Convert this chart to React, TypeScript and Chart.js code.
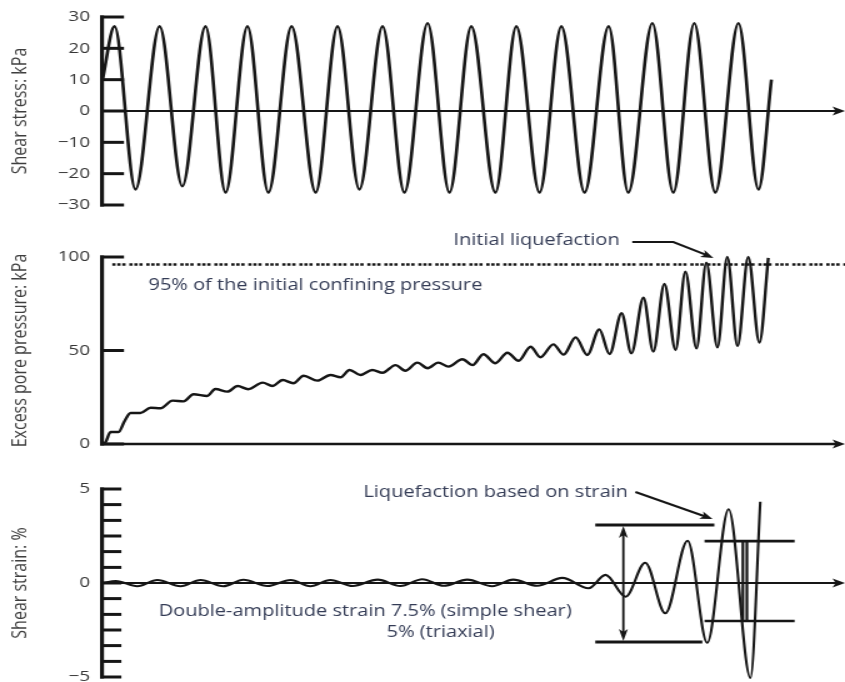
import React, { useEffect, useRef } from "react";
import { Chart, registerables } from "chart.js";

Chart.register(...registerables);

// ---------------- data (x = loading cycles) ----------------
const STRESS_CYCLES = [0, 0.27, 0.74, 1.28, 1.79, 2.31, 2.76, 3.25, 3.72, 4.24, 4.78, 5.27, 5.76, 6.28, 6.77, 7.29, 7.78, 8.27, 8.81, 9.28, 9.8, 10.29, 10.81, 11.35, 11.79, 12.33, 12.8, 13.27, 13.74, 14.26, 14.71, 15.0];
const STRESS_KPA = [10, 27, -25, 27, -24, 27, -26, 27, -26, 27, -26, 27, -25, 27, -26, 28, -26, 27, -26, 27, -26, 27, -26, 27, -26, 28, -26, 28, -26, 28, -25, 10];

const PORE_CYCLES = [0, 0.07, 0.18, 0.36, 0.49, 0.63, 0.85, 1.08, 1.3, 1.57, 1.82, 2.04, 2.35, 2.53, 2.8, 3.03, 3.27, 3.59, 3.81, 4.04, 4.28, 4.51, 4.82, 5.11, 5.34, 5.54, 5.78, 6.05, 6.28, 6.57, 6.79, 7.06, 7.29, 7.53, 7.76, 8.07, 8.3, 8.54, 8.81, 9.08, 9.33, 9.6, 9.82, 10.11, 10.34, 10.61, 10.87, 11.14, 11.37, 11.64, 11.86, 12.13, 12.35, 12.6, 12.85, 13.07, 13.32, 13.54, 13.79, 14.01, 14.24, 14.48, 14.73, 14.93];
const PORE_KPA = [0, 1, 6.4, 6.4, 12, 16.6, 16.6, 19.4, 19.1, 23.2, 22.8, 26.6, 25.7, 29.4, 28, 31.0, 29.3, 32.8, 31, 34.2, 32.5, 36.5, 33.9, 36.9, 35.7, 39.6, 36.9, 39.6, 38.1, 42.2, 39.2, 43.5, 40.5, 43.5, 41.4, 45.3, 42.2, 48, 43.2, 48.8, 44.5, 52, 46.4, 53.3, 47.8, 57, 47.6, 61.3, 48.1, 69.9, 48.5, 78.2, 49.4, 85.6, 50.3, 92.1, 51.2, 97, 51.7, 100, 52.4, 100, 54.2, 99.5];

const CONFINING_CYCLES = [0.22, 16.65];
const CONFINING_95_KPA = [96, 96];

const STRAIN_CYCLES = [0, 0.3, 0.78, 1.23, 1.75, 2.2, 2.71, 3.16, 3.7, 4.22, 4.66, 5.11, 5.61, 6.17, 6.68, 7.17, 7.65, 8.18, 8.74, 9.21, 9.75, 10.31, 10.9, 11.28, 11.73, 12.17, 12.62, 13.12, 13.56, 14.04, 14.53, 14.75];
const STRAIN_PCT = [0, 0.1, -0.17, 0.16, -0.17, 0.16, -0.17, 0.17, -0.16, 0.16, -0.17, 0.16, -0.16, 0.18, -0.16, 0.2, -0.15, 0.18, -0.17, 0.18, -0.15, 0.27, -0.28, 0.43, -0.73, 1.08, -1.61, 2.25, -3.18, 3.92, -5.05, 4.32];

const STRESS_TICKS = [-30, -20, -10, 0, 10, 20, 30];
const PORE_TICKS = [0, 50, 100];
const STRAIN_TICKS = [-5, -4.17, -3.33, -2.5, -1.67, -0.83, 0, 0.83, 1.67, 2.5, 3.33, 4.17, 5];
const STRAIN_LABELLED = [-5, 0, 5];

const X_MAX = 16.65;

// ---------------- layout / style ----------------
const PAGE_W = 845;
const STRETCH = 1.25; // the figure is stretched horizontally
const CANVAS_W = PAGE_W / STRETCH;
const AXIS_W = 82;
const INK = "#161616";
const TICK_COLOR = "#363636";
const ANN_COLOR = "#343c56";
const ANN_FONT = '16px "Open Sans", "DejaVu Sans", sans-serif';
const TITLE_FAMILY = '"Liberation Sans Narrow", "Arial Narrow", "Open Sans", sans-serif';

const pts = (xs: number[], ys: number[]) => xs.map((x, i) => ({ x, y: ys[i] }));
const fmt = (v: number) => (v < 0 ? "\u2212" + Math.abs(v) : String(v));

function arrowHead(ctx: CanvasRenderingContext2D, fx: number, fy: number, tx: number, ty: number, len: number, half: number) {
  const a = Math.atan2(ty - fy, tx - fx);
  const c = Math.cos(a), s = Math.sin(a);
  const bx = tx - c * len, by = ty - s * len;
  const nx = tx - c * len * 0.75, ny = ty - s * len * 0.75;
  ctx.beginPath();
  ctx.moveTo(tx, ty);
  ctx.lineTo(bx - s * half, by + c * half);
  ctx.lineTo(nx, ny);
  ctx.lineTo(bx + s * half, by - c * half);
  ctx.closePath();
  ctx.fill();
}

function axisPlugin(bottomValue: number, tickLen: number, zeroWidth: number) {
  return {
    id: "paperAxes",
    beforeDatasetsDraw(chart: any) {
      const { ctx, chartArea: ca } = chart;
      const y = chart.scales.y;
      const ax = ca.left - 0.4;
      ctx.save();
      ctx.fillStyle = INK;
      ctx.strokeStyle = INK;
      const y0 = y.getPixelForValue(0);
      ctx.lineWidth = zeroWidth;
      ctx.beginPath();
      ctx.moveTo(ax, y0);
      ctx.lineTo(ca.right - 6, y0);
      ctx.stroke();
      arrowHead(ctx, ca.left, y0, ca.right, y0, 10, 4.5);
      ctx.lineWidth = 3;
      for (const t of y.ticks) {
        const py = y.getPixelForValue(t.value);
        ctx.beginPath();
        ctx.moveTo(ax - 1.6, py);
        ctx.lineTo(ax + tickLen, py);
        ctx.stroke();
      }
      const top = y.getPixelForValue(y.max) - 1.5;
      const bot = y.getPixelForValue(bottomValue) + 1.5;
      ctx.fillRect(ax - 1.6, top, 3.2, bot - top);
      ctx.restore();
    },
  };
}

type Draw = (ctx: CanvasRenderingContext2D, xs: (v: number) => number, ys: (v: number) => number) => void;

function annPlugin(draw: Draw) {
  return {
    id: "paperNotes",
    afterDatasetsDraw(chart: any) {
      const { ctx } = chart;
      const xs = (v: number) => chart.scales.x.getPixelForValue(v);
      const ys = (v: number) => chart.scales.y.getPixelForValue(v);
      ctx.save();
      ctx.fillStyle = INK;
      ctx.strokeStyle = INK;
      draw(ctx, xs, ys);
      ctx.restore();
    },
  };
}

function label(ctx: CanvasRenderingContext2D, text: string, x: number, y: number) {
  ctx.save();
  ctx.font = ANN_FONT;
  ctx.fillStyle = ANN_COLOR;
  ctx.textAlign = "left";
  ctx.textBaseline = "middle";
  ctx.fillText(text, x, y);
  ctx.restore();
}

function seg(ctx: CanvasRenderingContext2D, x1: number, y1: number, x2: number, y2: number, w: number) {
  ctx.lineWidth = w;
  ctx.beginPath();
  ctx.moveTo(x1, y1);
  ctx.lineTo(x2, y2);
  ctx.stroke();
}

const poreNotes: Draw = (ctx, xs, ys) => {
  label(ctx, "95% of the initial confining pressure", xs(1.03), ys(85));
  label(ctx, "Initial liquefaction", xs(7.87), ys(109));
  ctx.lineWidth = 2;
  ctx.beginPath();
  ctx.moveTo(xs(11.88), ys(108));
  ctx.lineTo(xs(12.8), ys(108));
  ctx.lineTo(xs(13.55), ys(101));
  ctx.stroke();
  arrowHead(ctx, xs(12.8), ys(108), xs(13.7), ys(99.5), 10, 4);
};

const strainNotes: Draw = (ctx, xs, ys) => {
  label(ctx, "Liquefaction based on strain", xs(5.85), ys(4.84));
  label(ctx, "Double-amplitude strain 7.5% (simple shear)", xs(1.26), ys(-1.49));
  label(ctx, "5% (triaxial)", xs(6.37), ys(-2.61));
  // arrow to the strain-based liquefaction cycle
  seg(ctx, xs(11.95), ys(4.84), xs(13.5), ys(3.55), 2);
  arrowHead(ctx, xs(11.95), ys(4.84), xs(13.68), ys(3.4), 10, 4);
  // double amplitude 7.5 % bracket
  seg(ctx, xs(11.05), ys(3.09), xs(13.72), ys(3.09), 3);
  seg(ctx, xs(11.05), ys(-3.14), xs(13.45), ys(-3.14), 3);
  seg(ctx, xs(11.68), ys(3.09) + 8, xs(11.68), ys(-3.14) - 8, 1.8);
  arrowHead(ctx, xs(11.68), ys(0), xs(11.68), ys(3.09) + 1, 12, 3.6);
  arrowHead(ctx, xs(11.68), ys(0), xs(11.68), ys(-3.14) - 1, 12, 3.6);
  // 5 % bracket
  seg(ctx, xs(13.5), ys(2.23), xs(15.52), ys(2.23), 2.6);
  seg(ctx, xs(13.5), ys(-2.02), xs(15.52), ys(-2.02), 2.6);
  seg(ctx, xs(14.36), ys(2.23), xs(14.36), ys(-2.02), 2.2);
  seg(ctx, xs(14.45), ys(2.23), xs(14.45), ys(-2.02), 2.2);
};

type Panel = {
  top: number;
  height: number;
  padTop: number;
  padBottom: number;
  min: number;
  max: number;
  ticks: number[];
  tickLabel: (v: number) => string;
  title: string;
  datasets: any[];
  bottomValue: number;
  tickLen: number;
  zeroWidth: number;
  notes: Draw | null;
};

const curve = (data: any[], width: number) => ({
  data,
  borderColor: INK,
  borderWidth: width,
  pointRadius: 0,
  fill: false,
  cubicInterpolationMode: "monotone",
  clip: 8,
});

const PANELS: Panel[] = [
  {
    top: 0, height: 225, padTop: 17, padBottom: 20, min: -30, max: 30,
    ticks: STRESS_TICKS, tickLabel: fmt, title: "Shear stress: kPa",
    datasets: [curve(pts(STRESS_CYCLES, STRESS_KPA), 2.6)],
    bottomValue: -30, tickLen: 17.6, zeroWidth: 2, notes: null,
  },
  {
    top: 225, height: 235, padTop: 32, padBottom: 16, min: 0, max: 100,
    ticks: PORE_TICKS, tickLabel: fmt, title: "Excess pore pressure: kPa",
    datasets: [
      curve(pts(PORE_CYCLES, PORE_KPA), 2.4),
      {
        data: pts(CONFINING_CYCLES, CONFINING_95_KPA),
        borderColor: INK, borderWidth: 2.7, pointRadius: 0, fill: false,
        borderDash: [2.6, 1.4, 2.6, 1.4, 2.6, 3],
      },
    ],
    bottomValue: 0, tickLen: 17.6, zeroWidth: 2.6, notes: poreNotes,
  },
  {
    top: 460, height: 240, padTop: 29, padBottom: 23, min: -5, max: 5,
    ticks: STRAIN_TICKS,
    tickLabel: (v: number) => (STRAIN_LABELLED.some((l) => Math.abs(l - v) < 1e-6) ? fmt(v) : ""),
    title: "Shear strain: %",
    datasets: [curve(pts(STRAIN_CYCLES, STRAIN_PCT), 2.1)],
    bottomValue: -5, tickLen: 15.5, zeroWidth: 2, notes: strainNotes,
  },
];

function makeConfig(p: Panel): any {
  const plugins: any[] = [axisPlugin(p.bottomValue, p.tickLen, p.zeroWidth)];
  if (p.notes) plugins.push(annPlugin(p.notes));
  return {
    type: "line",
    data: { datasets: p.datasets },
    options: {
      animation: false,
      responsive: false,
      devicePixelRatio: 1,
      events: [],
      layout: { padding: { top: p.padTop, bottom: p.padBottom, left: 0, right: 0 } },
      plugins: { legend: { display: false }, tooltip: { enabled: false } },
      elements: { point: { radius: 0 } },
      scales: {
        x: { type: "linear", display: false, min: 0, max: X_MAX },
        y: {
          type: "linear",
          min: p.min,
          max: p.max,
          afterBuildTicks: (s: any) => {
            s.ticks = p.ticks.map((v) => ({ value: v }));
          },
          afterFit: (s: any) => {
            s.width = AXIS_W;
            s.paddingTop = 0;
            s.paddingBottom = 0;
          },
          grid: { display: false, drawTicks: false },
          border: { display: false },
          ticks: {
            autoSkip: false,
            padding: 10,
            color: TICK_COLOR,
            font: { family: '"Open Sans", "DejaVu Sans", sans-serif', size: 15 },
            callback: (v: number) => p.tickLabel(Number(v)),
          },
          title: {
            display: true,
            text: p.title,
            color: "#3e3e3e",
            font: { family: TITLE_FAMILY, size: 16 },
            padding: { top: 7, bottom: 0 },
          },
        },
      },
    },
    plugins,
  };
}

export default function App() {
  const r0 = useRef<HTMLCanvasElement>(null);
  const r1 = useRef<HTMLCanvasElement>(null);
  const r2 = useRef<HTMLCanvasElement>(null);
  const refs = [r0, r1, r2];

  useEffect(() => {
    const charts = PANELS.map((p, i) => new Chart(refs[i].current as HTMLCanvasElement, makeConfig(p)));
    return () => charts.forEach((c) => c.destroy());
  }, []);

  return (
    <div style={{ position: "absolute", left: 0, top: 0, width: PAGE_W, height: 682, overflow: "hidden", background: "#fff" }}>
      {PANELS.map((p, i) => (
        <canvas
          key={i}
          ref={refs[i]}
          width={CANVAS_W}
          height={p.height}
          style={{ position: "absolute", left: 0, top: p.top, width: PAGE_W, height: p.height }}
        />
      ))}
    </div>
  );
}
